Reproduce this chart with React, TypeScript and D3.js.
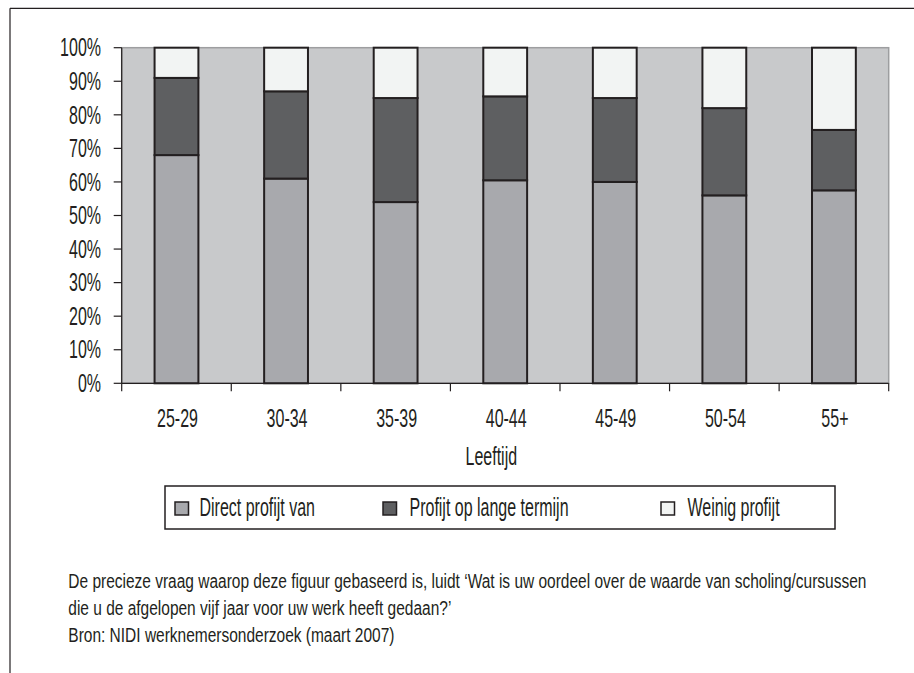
import React from "react";
import * as d3 from "d3";

// Age groups and the share (%) per answer category
const ageGroups = ["25-29", "30-34", "35-39", "40-44", "45-49", "50-54", "55+"];
const directProfit = [68, 61, 54, 60.5, 60, 56, 57.5];
const longTermProfit = [23, 26, 31, 25, 25, 26, 18];
const littleProfit = [9, 13, 15, 14.5, 15, 18, 24.5];

const seriesNames = ["Direct profijt van", "Profijt op lange termijn", "Weinig profijt"];
const yTicks = [0, 10, 20, 30, 40, 50, 60, 70, 80, 90, 100];

const axisTitle = "Leeftijd";
const captionLines = [
  "De precieze vraag waarop deze figuur gebaseerd is, luidt \u2018Wat is uw oordeel over de waarde van scholing/cursussen",
  "die u de afgelopen vijf jaar voor uw werk heeft gedaan?\u2019",
  "Bron: NIDI werknemersonderzoek (maart 2007)",
];

const W = 914;
const H = 673;
const plot = { left: 121.7, right: 888.7, top: 47.7, bottom: 383.3 };
const colors = ["#a8a9ad", "#5e5f61", "#f2f4f3"];
const ink = "#231f20";
const FONT = "'Liberation Sans', Arial, sans-serif";

type TProps = {
  x: number;
  y: number;
  size: number;
  sx?: number;
  anchor?: "start" | "middle" | "end";
  children: React.ReactNode;
};

// Text squeezed horizontally for a condensed look
function CText({ x, y, size, sx = 0.64, anchor = "start", children }: TProps) {
  return (
    <text
      transform={`translate(${x},${y}) scale(${sx},1)`}
      fontFamily={FONT}
      fontSize={size}
      textAnchor={anchor}
      fill={ink}
    >
      {children}
    </text>
  );
}

export default function App() {
  const x = d3
    .scaleBand<string>()
    .domain(ageGroups)
    .range([plot.left, plot.right])
    .paddingInner(0.6)
    .paddingOuter(0.3);
  const y = d3.scaleLinear().domain([0, 100]).range([plot.bottom, plot.top]);

  const rows = ageGroups.map((g, i) => ({
    group: g,
    direct: directProfit[i],
    lange: longTermProfit[i],
    weinig: littleProfit[i],
  }));
  const stacked = d3.stack<any>().keys(["direct", "lange", "weinig"])(rows);

  const step = x.step();
  const boundaries = d3.range(ageGroups.length + 1).map((i) => plot.left + i * step);

  const legendItems = [
    { name: seriesNames[0], sx: 175, tx: 199.5 },
    { name: seriesNames[1], sx: 383, tx: 409.5 },
    { name: seriesNames[2], sx: 661, tx: 687.5 },
  ];

  return (
    <svg
      width={W}
      height={H}
      viewBox={`0 0 ${W} ${H}`}
      style={{ position: "absolute", left: 0, top: 0, background: "#fff" }}
    >
      {/* outer frame lines */}
      <line x1={10} y1={8.3} x2={W} y2={8.3} stroke={ink} strokeWidth={1.2} />
      <line x1={10} y1={8.3} x2={10} y2={H} stroke={ink} strokeWidth={1.2} />

      {/* plot background */}
      <rect
        x={plot.left}
        y={plot.top}
        width={plot.right - plot.left}
        height={plot.bottom - plot.top}
        fill="#c8c9cb"
        stroke="#9d9ea0"
        strokeWidth={1.5}
      />

      {/* stacked bars */}
      {stacked.map((s, si) => (
        <g key={si}>
          {s.map((d, i) => (
            <rect
              key={i}
              x={x(ageGroups[i])}
              y={y(d[1])}
              width={x.bandwidth()}
              height={y(d[0]) - y(d[1])}
              fill={colors[si]}
              stroke={ink}
              strokeWidth={2}
            />
          ))}
        </g>
      ))}

      {/* y axis */}
      <line x1={plot.left} y1={plot.top} x2={plot.left} y2={plot.bottom} stroke={ink} strokeWidth={1.2} />
      {yTicks.map((t) => (
        <g key={t}>
          <line x1={plot.left - 8} x2={plot.left} y1={y(t)} y2={y(t)} stroke={ink} strokeWidth={1.2} />
          <CText x={101} y={y(t) + 8.7} size={25} anchor="end">
            {t}%
          </CText>
        </g>
      ))}

      {/* x axis */}
      <line x1={plot.left} y1={plot.bottom} x2={plot.right} y2={plot.bottom} stroke={ink} strokeWidth={1.2} />
      {boundaries.map((b, i) => (
        <line key={i} x1={b} x2={b} y1={plot.bottom} y2={plot.bottom + 8} stroke={ink} strokeWidth={1.2} />
      ))}
      {ageGroups.map((g) => (
        <CText key={g} x={(x(g) as number) + x.bandwidth() / 2 + 1} y={427.3} size={25} anchor="middle">
          {g}
        </CText>
      ))}
      <CText x={491.3} y={465} size={25} anchor="middle">
        {axisTitle}
      </CText>

      {/* legend */}
      <rect x={165} y={486} width={670} height={43} fill="#fff" stroke={ink} strokeWidth={1.5} />
      {legendItems.map((it, i) => (
        <g key={i}>
          <rect x={it.sx} y={502} width={13.5} height={13} fill={colors[i]} stroke={ink} strokeWidth={1.5} />
          <CText x={it.tx} y={516} size={25}>
            {it.name}
          </CText>
        </g>
      ))}

      {/* caption */}
      {captionLines.map((line, i) => (
        <CText key={i} x={68.3} y={588 + i * 27} size={21} sx={0.738}>
          {line}
        </CText>
      ))}
    </svg>
  );
}
